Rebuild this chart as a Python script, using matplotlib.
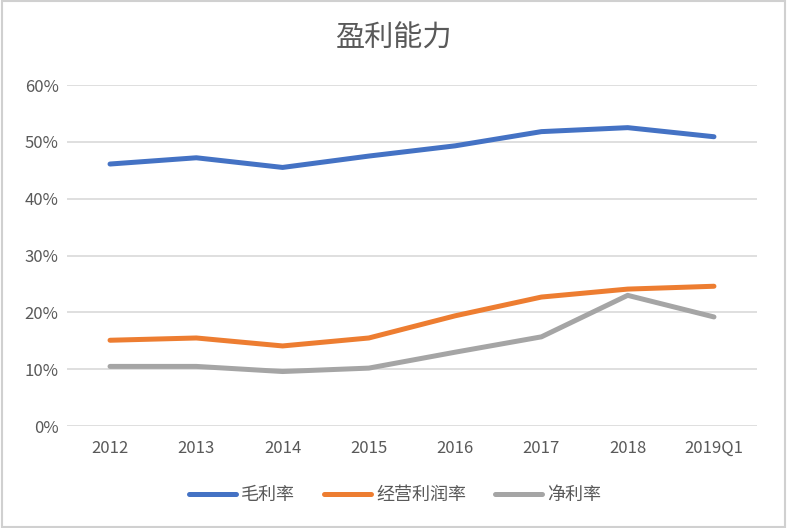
import matplotlib.pyplot as plt
from matplotlib.ticker import PercentFormatter

plt.rcParams['font.family'] = ['Noto Sans CJK SC', 'DejaVu Sans']

years = ['2012', '2013', '2014', '2015', '2016', '2017', '2018', '2019Q1']
gross_margin = [46.1, 47.2, 45.5, 47.5, 49.3, 51.8, 52.5, 50.9]
operating_margin = [15.1, 15.5, 14.1, 15.5, 19.4, 22.7, 24.1, 24.6]
net_margin = [10.5, 10.5, 9.6, 10.2, 13.0, 15.7, 23.0, 19.2]

series = [
    ('毛利率', gross_margin, '#4472C4'),
    ('经营利润率', operating_margin, '#ED7D31'),
    ('净利率', net_margin, '#A5A5A5'),
]

fig = plt.figure(figsize=(7.87, 5.28), dpi=100)
ax = fig.add_axes([0.085, 0.193, 0.877, 0.646])

x = range(len(years))
for name, vals, color in series:
    ax.plot(x, [v / 100 for v in vals], color=color, lw=3.6, label=name,
            solid_capstyle='round', solid_joinstyle='round')

ax.set_xlim(-0.5, len(years) - 0.5)
ax.set_ylim(0, 0.6)
ax.set_yticks([0, 0.1, 0.2, 0.3, 0.4, 0.5, 0.6])
ax.yaxis.set_major_formatter(PercentFormatter(1.0, decimals=0))
ax.set_xticks(list(x))
ax.set_xticklabels(years)
ax.grid(axis='y', color='#D9D9D9', lw=1.2)
ax.set_axisbelow(True)
for s in ax.spines.values():
    s.set_visible(False)
ax.tick_params(length=0, labelsize=12, colors='#595959', pad=10)
ax.tick_params(axis='y', pad=6)

fig.text(0.5, 0.926, '盈利能力', ha='center', va='center', fontsize=21, color='#595959')

fig.legend(loc='center', bbox_to_anchor=(0.502, 0.062), ncol=3, frameon=False,
           fontsize=13, handlelength=2.6, columnspacing=1.6, handletextpad=0.3,
           labelcolor='#595959')

border = plt.Rectangle((0.002, 0.002), 0.996, 0.996, transform=fig.transFigure,
                       fill=False, edgecolor='#D0D0D0', lw=1.5)
fig.add_artist(border)

fig.savefig('out.png', dpi=100)
